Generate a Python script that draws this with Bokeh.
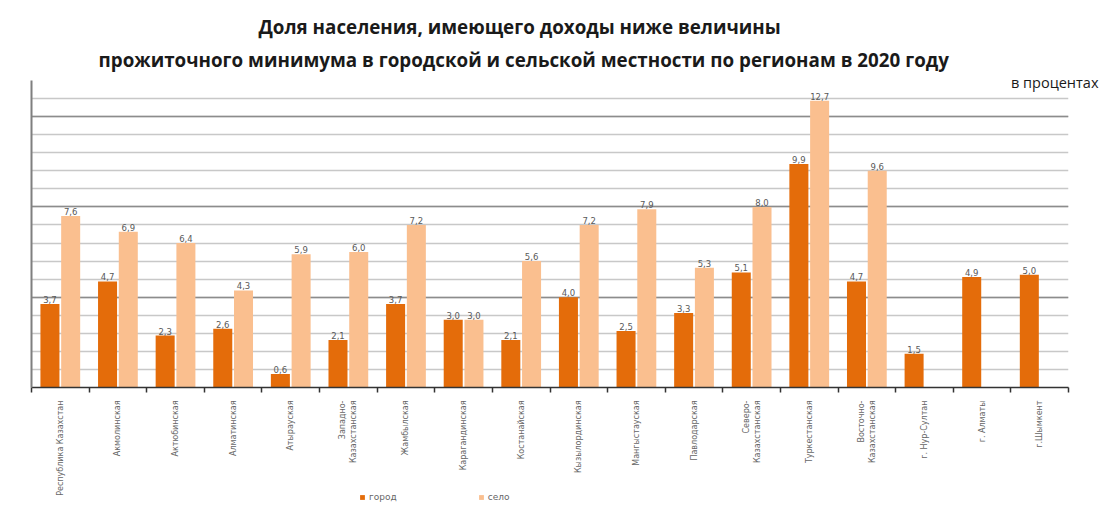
import math
from bokeh.plotting import figure
from bokeh.layouts import column
from bokeh.models import (Range1d, FixedTicker, ColumnDataSource, Title, Legend, LegendItem)
from bokeh.core.properties import value
from bokeh.embed import file_html
from bokeh.resources import INLINE

categories = ["Республика Казахстан", "Акмолинская", "Актюбинская", "Алматинская",
              "Атырауская", "Западно-\nКазахстанская", "Жамбылская", "Карагандинская",
              "Костанайская", "Кызылординская", "Мангыстауская", "Павлодарская",
              "Северо-\nКазахстанская", "Туркестанская", "Восточно-\nКазахстанская",
              "г. Нур-Султан", "г. Алматы", "г.Шымкент"]
city = [3.7, 4.7, 2.3, 2.6, 0.6, 2.1, 3.7, 3.0, 2.1, 4.0, 2.5, 3.3, 5.1, 9.9, 4.7, 1.5, 4.9, 5.0]
rural = [7.6, 6.9, 6.4, 4.3, 5.9, 6.0, 7.2, 3.0, 5.6, 7.2, 7.9, 5.3, 8.0, 12.7, 9.6, None, None, None]
series_names = ["город", "село"]
title_lines = ["Доля населения, имеющего доходы ниже величины",
               "прожиточного минимума в городской и сельской местности по регионам в 2020 году"]
unit_text = "в процентах"

C_CITY = "#E46C0A"
C_RURAL = "#FABF8F"

n = len(categories)
centers = [i + 0.5 for i in range(n)]

def fmt(v):
    return f"{v:.1f}".replace(".", ",")

city_src = ColumnDataSource(dict(x=[c - 0.18 for c in centers], top=city,
                                 lab=[fmt(v) for v in city]))
rx = [centers[i] + 0.18 for i in range(n) if rural[i] is not None]
rv = [v for v in rural if v is not None]
rural_src = ColumnDataSource(dict(x=rx, top=rv, lab=[fmt(v) for v in rv]))

p = figure(frame_width=1037, frame_height=307, output_backend="svg", toolbar_location=None,
           x_range=Range1d(0, n), y_range=Range1d(0, 13.6),
           min_border_left=31, min_border_right=42, min_border_top=80,
           min_border_bottom=10)
p.outline_line_color = None
p.background_fill_color = "white"

r1 = p.vbar(x="x", top="top", width=0.33, bottom=0, source=city_src,
            fill_color=C_CITY, line_color=None)
r2 = p.vbar(x="x", top="top", width=0.33, bottom=0, source=rural_src,
            fill_color=C_RURAL, line_color=None)

for src in (city_src, rural_src):
    p.text(x="x", y="top", text="lab", source=src, text_align="center",
           text_baseline="bottom", y_offset=-1, text_font_size="8.5px",
           text_color="#595959", text_font=value("DejaVu Sans"))

# y axis / grid
p.yaxis.ticker = FixedTicker(ticks=[0, 4, 8, 12],
                             minor_ticks=[round(0.8 * i, 2) for i in range(1, 17)])
p.yaxis.major_label_text_font_size = "0px"
p.yaxis.major_label_standoff = 0
p.yaxis.major_tick_line_color = None
p.yaxis.minor_tick_line_color = None
p.yaxis.axis_line_color = "#7f7f7f"
p.yaxis.axis_line_width = 2
p.ygrid.grid_line_color = "#8c8c8c"
p.ygrid.minor_grid_line_color = "#c8c8c8"
p.ygrid.grid_line_width = 1.3
p.ygrid.minor_grid_line_width = 1.3
p.xgrid.grid_line_color = None

# x axis
p.xaxis.ticker = FixedTicker(ticks=centers, minor_ticks=list(range(n + 1)))
p.xaxis.major_label_overrides = {c: categories[i] for i, c in enumerate(centers)}
p.xaxis.major_tick_line_color = None
p.xaxis.major_tick_out = 0
p.xaxis.minor_tick_in = 0
p.xaxis.minor_tick_out = 5
p.xaxis.minor_tick_line_color = "#333333"
p.xaxis.minor_tick_line_width = 1.5
p.xaxis.axis_line_color = "#333333"
p.xaxis.axis_line_width = 1.5
p.xaxis.major_label_orientation = math.pi / 2
p.xaxis.major_label_standoff = 8
p.xaxis.major_label_text_font_size = "8px"
p.xaxis.major_label_text_color = "#666666"
p.xaxis.major_label_text_font = "DejaVu Sans"

# titles (added from the frame outward)
p.add_layout(Title(text=unit_text, align="right", offset=-30, standoff=-22,
                   text_font="Open Sans", text_font_style="normal",
                   text_font_size="14.5px", text_color="#1a1a1a"), "above")
p.add_layout(Title(text=title_lines[1], align="left", offset=67, standoff=15,
                   text_font="Open Sans", text_font_style="bold",
                   text_font_size="18.8px", text_color="#1a1a1a"), "above")
p.add_layout(Title(text=title_lines[0], align="left", offset=227, standoff=-4,
                   text_font="Open Sans", text_font_style="bold",
                   text_font_size="18.8px", text_color="#1a1a1a"), "above")

# legend: a small companion figure positioned under the category labels
leg = figure(width=260, height=20, output_backend="svg", toolbar_location=None,
             x_range=Range1d(0, 1), y_range=Range1d(20, 30),
             x_axis_location=None, y_axis_location=None, min_border=0,
             styles={"position": "absolute", "left": "323px", "top": "487px"})
leg.outline_line_color = None
leg.grid.visible = False
leg.background_fill_alpha = 0
leg.border_fill_alpha = 0
lr1 = leg.vbar(x="x", top="top", width=0.33, bottom=0, source=city_src,
               fill_color=C_CITY, line_color=None)
lr2 = leg.vbar(x="x", top="top", width=0.33, bottom=0, source=rural_src,
               fill_color=C_RURAL, line_color=None)
legend = Legend(items=[LegendItem(label=series_names[0], renderers=[lr1]),
                       LegendItem(label=series_names[1], renderers=[lr2])],
                location=(5, 5), orientation="horizontal",
                border_line_alpha=0, background_fill_alpha=0,
                glyph_width=6, glyph_height=6, label_height=10, label_standoff=4,
                padding=0, margin=0, spacing=81,
                label_text_font_size="9px", label_text_color="#666666",
                label_text_font="DejaVu Sans")
leg.add_layout(legend, "center")

open("out.html", "w").write(file_html(column(p, leg), INLINE))
